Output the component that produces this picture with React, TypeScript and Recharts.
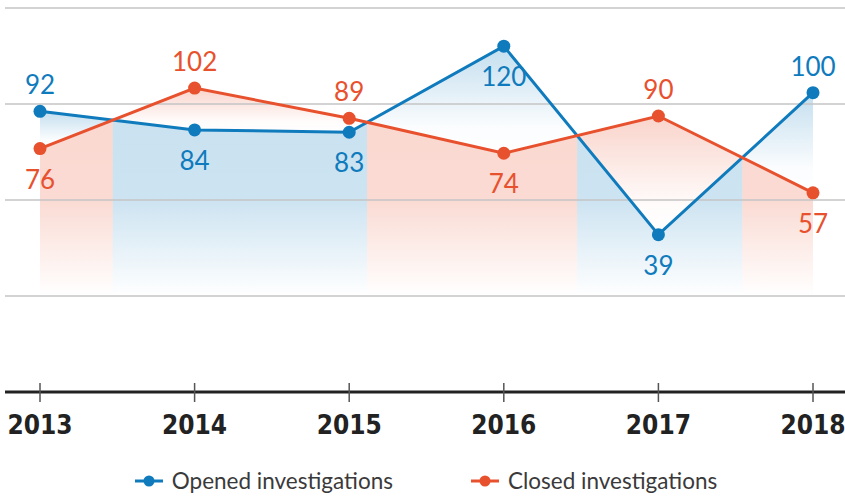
import React from 'react';
import { ComposedChart, Line, Area, XAxis, YAxis, ReferenceLine, LabelList, Legend } from 'recharts';

// ---- data ----
const years = [2013, 2014, 2015, 2016, 2017, 2018];
const opened = [92, 84, 83, 120, 39, 100];
const closed = [76, 102, 89, 74, 90, 57];
const seriesNames = ['Opened investigations', 'Closed investigations'];
const yDomain = [-28.6, 136.4];
const gridTicks = [12.65, 53.9, 95.15, 136.4];
const fillBase = 8;

const BLUE = '#0f7bbd';
const ORANGE = '#e8512d';

type Row = Record<string, any>;
type Seg = { upper: 'opened' | 'closed'; start: number; end: number };

function buildData() {
  const pts: { x: number; o: number; c: number; real: boolean }[] = [];
  for (let i = 0; i < years.length; i++) {
    pts.push({ x: years[i], o: opened[i], c: closed[i], real: true });
    if (i < years.length - 1) {
      const d0 = opened[i] - closed[i];
      const d1 = opened[i + 1] - closed[i + 1];
      if (d0 * d1 < 0) {
        const t = d0 / (d0 - d1);
        const v = opened[i] + t * (opened[i + 1] - opened[i]);
        pts.push({ x: years[i] + t * (years[i + 1] - years[i]), o: v, c: v, real: false });
      }
    }
  }
  const segs: Seg[] = [];
  let s0 = 0;
  for (let k = 1; k < pts.length; k++) {
    if (!pts[k].real || k === pts.length - 1) {
      const mo = (pts[s0].o + pts[s0 + 1].o) / 2;
      const mc = (pts[s0].c + pts[s0 + 1].c) / 2;
      segs.push({ upper: mo >= mc ? 'opened' : 'closed', start: s0, end: k });
      s0 = k;
    }
  }
  const rows: Row[] = pts.map((p) => ({
    year: p.x,
    opened: p.real ? p.o : null,
    closed: p.real ? p.c : null,
  }));
  segs.forEach((s, si) => {
    for (let k = s.start; k <= s.end; k++) {
      const lo = Math.min(pts[k].o, pts[k].c);
      const hi = Math.max(pts[k].o, pts[k].c);
      rows[k][`b${si}`] = [lo, hi];
      rows[k][`l${si}`] = [fillBase, lo];
    }
  });
  return { rows, segs };
}

const { rows: data, segs } = buildData();

const makeDot = (color: string) => (props: any) => {
  const { cx, cy, value, index } = props;
  if (value == null || cy == null) return <g key={`d${index}`} />;
  return <circle key={`d${index}`} cx={cx} cy={cy} r={6.5} fill={color} stroke="none" />;
};

const makeLabel = (series: 'opened' | 'closed', color: string) => (props: any) => {
  const { x, y, value, index } = props;
  if (value == null || y == null) return null;
  const row = data[index];
  const other = row[series === 'opened' ? 'closed' : 'opened'];
  let above = value >= other;
  if (above && y < 60) above = false;
  const ty = above ? y - 17 : y + 40;
  return (
    <text x={x} y={ty} textAnchor="middle" fill={color} fontSize={26} fontFamily="Lato, 'Noto Sans', sans-serif">
      {value}
    </text>
  );
};

const YearTick = (props: any) => {
  const { x, y, payload } = props;
  return (
    <g>
      <line x1={x} x2={x} y1={y - 9} y2={y + 10} stroke="#555" strokeWidth={1.5} />
      <text
        x={x}
        y={y + 42}
        textAnchor="middle"
        fontSize={26}
        fontWeight="bold"
        fontFamily="'DejaVu Sans Condensed', 'DejaVu Sans', sans-serif"
        style={{ fontStretch: 'condensed' }}
        fill="#222"
      >
        {payload.value}
      </text>
    </g>
  );
};

const LegendContent = () => {
  const colors = [BLUE, ORANGE];
  return (
    <div style={{ display: 'flex', justifyContent: 'center', gap: 78, paddingLeft: 7, height: 30, lineHeight: '30px' }}>
      {seriesNames.map((n, i) => (
        <div key={n} style={{ display: 'flex', alignItems: 'center' }}>
          <svg width={28} height={14} style={{ marginRight: 9 }}>
            <line x1={0} x2={28} y1={7} y2={7} stroke={colors[i]} strokeWidth={3} />
            <circle cx={14} cy={7} r={5.5} fill={colors[i]} />
          </svg>
          <span style={{ fontFamily: "Lato, 'Noto Sans', sans-serif", fontSize: 22.5, color: '#3a3a3a' }}>{n}</span>
        </div>
      ))}
    </div>
  );
};

export default function App() {
  return (
    <div style={{ position: 'absolute', left: 0, top: 0, width: 845, height: 497, background: '#fff' }}>
      <ComposedChart width={845} height={497} data={data} margin={{ top: 8, right: 0, left: 5, bottom: 0 }}>
        <defs>
          <linearGradient id="lowBlue" gradientUnits="userSpaceOnUse" x1={0} y1={8} x2={0} y2={392}>
            <stop offset="0" stopColor={BLUE} stopOpacity={0.24} />
            <stop offset="0.5" stopColor={BLUE} stopOpacity={0.21} />
            <stop offset="0.75" stopColor={BLUE} stopOpacity={0} />
          </linearGradient>
          <linearGradient id="lowOrange" gradientUnits="userSpaceOnUse" x1={0} y1={8} x2={0} y2={392}>
            <stop offset="0" stopColor={ORANGE} stopOpacity={0.24} />
            <stop offset="0.5" stopColor={ORANGE} stopOpacity={0.21} />
            <stop offset="0.75" stopColor={ORANGE} stopOpacity={0} />
          </linearGradient>
          <linearGradient id="betBlue" x1={0} y1={0} x2={0} y2={1}>
            <stop offset="0" stopColor={BLUE} stopOpacity={0.25} />
            <stop offset="0.75" stopColor={BLUE} stopOpacity={0.02} />
            <stop offset="1" stopColor={BLUE} stopOpacity={0} />
          </linearGradient>
          <linearGradient id="betOrange" x1={0} y1={0} x2={0} y2={1}>
            <stop offset="0" stopColor={ORANGE} stopOpacity={0.25} />
            <stop offset="0.75" stopColor={ORANGE} stopOpacity={0.02} />
            <stop offset="1" stopColor={ORANGE} stopOpacity={0} />
          </linearGradient>
        </defs>
        <XAxis
          dataKey="year"
          type="number"
          domain={[years[0], years[years.length - 1]]}
          ticks={years}
          interval={0}
          padding={{ left: 35, right: 32 }}
          axisLine={{ stroke: '#222', strokeWidth: 3 }}
          tickLine={false}
          tickSize={0}
          tickMargin={0}
          height={105}
          tick={YearTick}
        />
        <YAxis width={0} domain={yDomain} ticks={gridTicks} axisLine={false} tickLine={false} tick={false} allowDataOverflow />
        {gridTicks.map((v) => (
          <ReferenceLine key={`g${v}`} y={v} stroke="#c4c4c4" strokeWidth={1.5} ifOverflow="visible" />
        ))}
        {segs.map((s, si) => (
          <Area
            key={`l${si}`}
            dataKey={`l${si}`}
            type="linear"
            stroke="none"
            fill={s.upper === 'opened' ? 'url(#lowOrange)' : 'url(#lowBlue)'}
            fillOpacity={1}
            isAnimationActive={false}
            legendType="none"
            dot={false}
            activeDot={false}
          />
        ))}
        {segs.map((s, si) => (
          <Area
            key={`b${si}`}
            dataKey={`b${si}`}
            type="linear"
            stroke="none"
            fill={s.upper === 'opened' ? 'url(#betBlue)' : 'url(#betOrange)'}
            fillOpacity={1}
            isAnimationActive={false}
            legendType="none"
            dot={false}
            activeDot={false}
          />
        ))}
        <Line
          dataKey="opened"
          name={seriesNames[0]}
          type="linear"
          stroke={BLUE}
          strokeWidth={3}
          connectNulls
          dot={makeDot(BLUE)}
          activeDot={false}
          isAnimationActive={false}
        >
          <LabelList dataKey="opened" content={makeLabel('opened', BLUE)} />
        </Line>
        <Line
          dataKey="closed"
          name={seriesNames[1]}
          type="linear"
          stroke={ORANGE}
          strokeWidth={3}
          connectNulls
          dot={makeDot(ORANGE)}
          activeDot={false}
          isAnimationActive={false}
        >
          <LabelList dataKey="closed" content={makeLabel('closed', ORANGE)} />
        </Line>
        <Legend
          layout="horizontal"
          verticalAlign="middle"
          align="center"
          wrapperStyle={{ top: 466, left: 0, width: 845, height: 30 }}
          content={() => <LegendContent />}
        />
      </ComposedChart>
    </div>
  );
}
